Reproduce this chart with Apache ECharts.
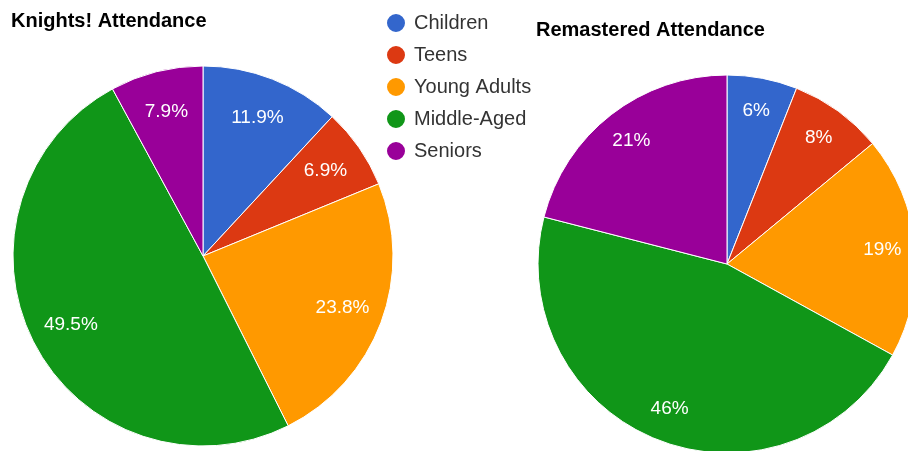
<!DOCTYPE html>
<html>
<head>
<meta charset="utf-8">
<script src="https://cdn.jsdelivr.net/npm/echarts@6/dist/echarts.min.js"></script>
<style>
  html, body { margin: 0; padding: 0; background: #ffffff; }
  #chart { width: 908px; height: 451px; }
</style>
</head>
<body>
<div id="chart"></div>
<script>
// Age groups and their share of attendance (percent)
const categories = ['Children', 'Teens', 'Young Adults', 'Middle-Aged', 'Seniors'];
const knightsShare = [11.9, 6.9, 23.8, 49.5, 7.9];
const remasteredShare = [6, 8, 19, 46, 21];
const titles = ['Knights! Attendance', 'Remastered Attendance'];

const palette = ['#3366cc', '#dc3912', '#ff9900', '#109618', '#990099'];
const FONT = 'Arial, "Liberation Sans", Helvetica, sans-serif';

const toData = (values) => categories.map((name, i) => ({ name, value: values[i] }));

// Filled slices
function slices(values, center, r) {
  return {
    type: 'pie',
    center: center,
    radius: [0, r],
    startAngle: 90,
    clockwise: true,
    silent: true,
    label: { show: false },
    labelLine: { show: false },
    itemStyle: { borderColor: '#ffffff', borderWidth: 1 },
    emphasis: { disabled: true },
    animation: false,
    data: toData(values)
  };
}

// Transparent ring that carries the percentage labels further out
function labels(values, center, r0, r) {
  return {
    type: 'pie',
    center: center,
    radius: [r0, r],
    startAngle: 90,
    clockwise: true,
    silent: true,
    itemStyle: { color: 'rgba(0,0,0,0)', borderWidth: 0 },
    label: {
      show: true,
      position: 'inside',
      color: '#ffffff',
      fontFamily: FONT,
      fontSize: 19,
      formatter: (p) => p.value + '%'
    },
    labelLine: { show: false },
    emphasis: { disabled: true },
    animation: false,
    data: toData(values)
  };
}

const chart = echarts.init(document.getElementById('chart'), null, { renderer: 'canvas' });

chart.setOption({
  animation: false,
  color: palette,
  title: [
    {
      text: titles[0], left: 11, top: 11, padding: 0,
      textStyle: { fontFamily: FONT, fontSize: 20, fontWeight: 'bold', color: '#000000', lineHeight: 20 }
    },
    {
      text: titles[1], left: 536, top: 20, padding: 0,
      textStyle: { fontFamily: FONT, fontSize: 20, fontWeight: 'bold', color: '#000000', lineHeight: 20 }
    }
  ],
  legend: {
    orient: 'vertical',
    left: 385,
    top: 12,
    padding: 0,
    itemWidth: 20,
    itemHeight: 20,
    itemGap: 10,
    icon: 'circle',
    selectedMode: false,
    textStyle: { fontFamily: FONT, fontSize: 20, color: '#333333', lineHeight: 20, padding: [0, 0, 0, 3] },
    data: categories.map((name, i) => ({ name, itemStyle: { color: palette[i] } }))
  },
  series: [
    slices(knightsShare, [203, 256], 190),
    slices(remasteredShare, [727, 264], 189),
    labels(knightsShare, [203, 256], 102, 190),
    labels(remasteredShare, [727, 264], 117, 189)
  ]
});
</script>
</body>
</html>
